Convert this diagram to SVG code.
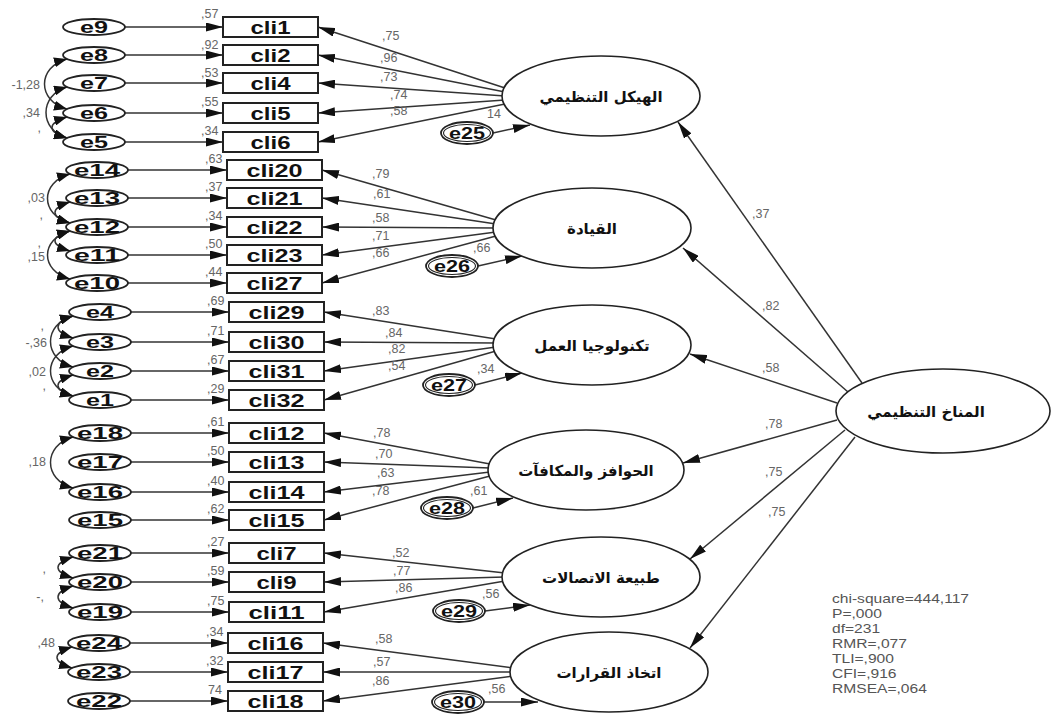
<svg xmlns="http://www.w3.org/2000/svg" width="1051" height="714" viewBox="0 0 1051 714">
<style>
.box{fill:#fff;stroke:#222;stroke-width:2}
.ell{fill:#fff;stroke:#222;stroke-width:1.8}
.in{fill:none;stroke:#222;stroke-width:1.1}
.lat{fill:#fff;stroke:#222;stroke-width:1.6}
.el{font-family:"Liberation Sans",Arial,sans-serif;font-weight:bold;font-size:17px;fill:#111;text-anchor:middle}
.cl{font-family:"Liberation Sans",Arial,sans-serif;font-weight:bold;font-size:19px;fill:#111;text-anchor:middle}
.ee{font-family:"Liberation Sans",Arial,sans-serif;font-weight:bold;font-size:16px;fill:#111;text-anchor:middle}
.num{font-family:"Liberation Sans",Arial,sans-serif;font-size:12.5px;fill:#666}
.end{text-anchor:end}
.ar{font-family:"DejaVu Sans","Noto Sans",sans-serif;font-weight:bold;font-size:15px;fill:#111;text-anchor:middle}
.fit{font-family:"Liberation Sans",Arial,sans-serif;font-size:13px;fill:#555}
#connectors line,#connectors path{stroke:#333;stroke-width:1.5;fill:none}
.a{marker-end:url(#ah)}
.c{marker-start:url(#ch);marker-end:url(#ch)}
</style>
<defs>
<marker id="ah" viewBox="0 0 17 9" refX="17" refY="4.5" markerWidth="17" markerHeight="9" markerUnits="userSpaceOnUse" orient="auto"><path d="M0,0 L17,4.5 L0,9 z" fill="#111"/></marker>
<marker id="ch" viewBox="0 0 13 10" refX="13" refY="5" markerWidth="13" markerHeight="10" markerUnits="userSpaceOnUse" orient="auto-start-reverse"><path d="M0,0 L13,5 L0,10 z" fill="#111"/></marker>
</defs>
<rect width="1051" height="714" fill="#fff"/>

<g id="connectors">
<line class="a" x1="125" y1="27" x2="223" y2="27"/>
<line class="a" x1="125" y1="55" x2="223" y2="55"/>
<line class="a" x1="125" y1="83" x2="223" y2="83"/>
<line class="a" x1="125" y1="113" x2="223" y2="113"/>
<line class="a" x1="125" y1="142" x2="223" y2="142"/>
<line class="a" x1="128" y1="170" x2="227" y2="170"/>
<line class="a" x1="128" y1="198" x2="227" y2="198"/>
<line class="a" x1="128" y1="227" x2="227" y2="227"/>
<line class="a" x1="128" y1="255" x2="227" y2="255"/>
<line class="a" x1="128" y1="283" x2="227" y2="283"/>
<line class="a" x1="131" y1="312" x2="229" y2="312"/>
<line class="a" x1="131" y1="342" x2="229" y2="342"/>
<line class="a" x1="131" y1="371" x2="229" y2="371"/>
<line class="a" x1="131" y1="400" x2="229" y2="400"/>
<line class="a" x1="131" y1="433" x2="229" y2="433"/>
<line class="a" x1="131" y1="462" x2="229" y2="462"/>
<line class="a" x1="131" y1="492" x2="229" y2="492"/>
<line class="a" x1="131" y1="520" x2="229" y2="520"/>
<line class="a" x1="131" y1="553" x2="229" y2="553"/>
<line class="a" x1="131" y1="582" x2="229" y2="582"/>
<line class="a" x1="131" y1="612" x2="229" y2="612"/>
<line class="a" x1="130" y1="643" x2="228" y2="643"/>
<line class="a" x1="130" y1="672" x2="228" y2="672"/>
<line class="a" x1="130" y1="701" x2="228" y2="701"/>
<line class="a" x1="505" y1="88" x2="318" y2="27"/>
<line class="a" x1="505" y1="92" x2="318" y2="55"/>
<line class="a" x1="505" y1="96" x2="318" y2="83"/>
<line class="a" x1="505" y1="100" x2="318" y2="113"/>
<line class="a" x1="505" y1="104" x2="318" y2="142"/>
<line class="a" x1="496" y1="220" x2="322" y2="170"/>
<line class="a" x1="496" y1="224" x2="322" y2="198"/>
<line class="a" x1="496" y1="228" x2="322" y2="227"/>
<line class="a" x1="496" y1="232" x2="322" y2="255"/>
<line class="a" x1="496" y1="236" x2="322" y2="283"/>
<line class="a" x1="496" y1="339" x2="324" y2="312"/>
<line class="a" x1="496" y1="343" x2="324" y2="342"/>
<line class="a" x1="496" y1="347" x2="324" y2="371"/>
<line class="a" x1="496" y1="351" x2="324" y2="400"/>
<line class="a" x1="490" y1="464" x2="324" y2="433"/>
<line class="a" x1="490" y1="468" x2="324" y2="462"/>
<line class="a" x1="490" y1="472" x2="324" y2="492"/>
<line class="a" x1="490" y1="476" x2="324" y2="520"/>
<line class="a" x1="505" y1="573" x2="324" y2="553"/>
<line class="a" x1="505" y1="577" x2="324" y2="582"/>
<line class="a" x1="505" y1="581" x2="324" y2="612"/>
<line class="a" x1="513" y1="668" x2="323" y2="643"/>
<line class="a" x1="513" y1="672" x2="323" y2="672"/>
<line class="a" x1="513" y1="676" x2="323" y2="701"/>
<line class="a" x1="493" y1="133" x2="530" y2="125"/>
<line class="a" x1="478" y1="266" x2="522" y2="256"/>
<line class="a" x1="475" y1="385" x2="522" y2="373"/>
<line class="a" x1="473" y1="508" x2="513" y2="498"/>
<line class="a" x1="485" y1="611" x2="530" y2="605"/>
<line class="a" x1="484" y1="702" x2="538" y2="702"/>
<line class="a" x1="862" y1="383" x2="678" y2="122"/>
<line class="a" x1="848" y1="392" x2="683" y2="248"/>
<line class="a" x1="837" y1="403" x2="690" y2="354"/>
<line class="a" x1="837" y1="420" x2="683" y2="463"/>
<line class="a" x1="845" y1="430" x2="690" y2="559"/>
<line class="a" x1="855" y1="437" x2="690" y2="648"/>
<path class="c" d="M67,59 C37,67 37,101 67,109"/>
<path class="c" d="M67,87 C39,95 39,130 67,138"/>
<path class="c" d="M67,117 C47,123 47,132 67,138"/>
<path class="c" d="M70,174 C40,182 40,215 70,223"/>
<path class="c" d="M70,202 C50,208 50,217 70,223"/>
<path class="c" d="M70,231 C50,237 50,245 70,251"/>
<path class="c" d="M70,231 C40,239 40,271 70,279"/>
<path class="c" d="M73,316 C53,322 53,332 73,338"/>
<path class="c" d="M73,316 C43,324 43,359 73,367"/>
<path class="c" d="M73,346 C43,354 43,388 73,396"/>
<path class="c" d="M73,375 C53,381 53,390 73,396"/>
<path class="c" d="M73,437 C43,445 43,480 73,488"/>
<path class="c" d="M73,557 C53,563 53,572 73,578"/>
<path class="c" d="M73,586 C53,592 53,602 73,608"/>
<path class="c" d="M72,647 C52,653 52,662 72,668"/>
</g>

<g id="labels" class="num">
<text x="201" y="18">,57</text>
<text x="201" y="49">,92</text>
<text x="201" y="77">,53</text>
<text x="201" y="106">,55</text>
<text x="201" y="135">,34</text>
<text x="205" y="163">,63</text>
<text x="205" y="191">,37</text>
<text x="205" y="220">,34</text>
<text x="205" y="248">,50</text>
<text x="205" y="276">,44</text>
<text x="207" y="305">,69</text>
<text x="207" y="335">,71</text>
<text x="207" y="364">,67</text>
<text x="207" y="393">,29</text>
<text x="207" y="426">,61</text>
<text x="207" y="455">,50</text>
<text x="207" y="485">,40</text>
<text x="207" y="513">,62</text>
<text x="207" y="546">,27</text>
<text x="207" y="575">,59</text>
<text x="207" y="605">,75</text>
<text x="206" y="636">,34</text>
<text x="206" y="665">,32</text>
<text x="208" y="694">74</text>
<text x="382" y="40">,75</text>
<text x="380" y="62">,96</text>
<text x="380" y="81">,73</text>
<text x="390" y="99">,74</text>
<text x="390" y="115">,58</text>
<text x="487" y="118">14</text>
<text x="372" y="178">,79</text>
<text x="373" y="198">,61</text>
<text x="372" y="222">,58</text>
<text x="372" y="240">,71</text>
<text x="372" y="257">,66</text>
<text x="473" y="252">,66</text>
<text x="372" y="315">,83</text>
<text x="385" y="337">,84</text>
<text x="388" y="353">,82</text>
<text x="388" y="370">,54</text>
<text x="477" y="373">,34</text>
<text x="373" y="437">,78</text>
<text x="375" y="458">,70</text>
<text x="377" y="477">,63</text>
<text x="372" y="495">,78</text>
<text x="470" y="495">,61</text>
<text x="392" y="557">,52</text>
<text x="393" y="575">,77</text>
<text x="395" y="592">,86</text>
<text x="482" y="598">,56</text>
<text x="375" y="643">,58</text>
<text x="373" y="666">,57</text>
<text x="372" y="685">,86</text>
<text x="488" y="693">,56</text>
<text x="752" y="218">,37</text>
<text x="762" y="310">,82</text>
<text x="762" y="372">,58</text>
<text x="765" y="428">,78</text>
<text x="765" y="476">,75</text>
<text x="768" y="516">,75</text>
<text class="end" x="40" y="89">-1,28</text>
<text class="end" x="40" y="117">,34</text>
<text class="end" x="41" y="132">,</text>
<text class="end" x="45" y="202">,03</text>
<text class="end" x="43" y="219">,</text>
<text class="end" x="41" y="247">,</text>
<text class="end" x="45" y="261">,15</text>
<text class="end" x="44" y="330">,</text>
<text class="end" x="47" y="347">-,36</text>
<text class="end" x="46" y="376">,02</text>
<text class="end" x="46" y="390">,</text>
<text class="end" x="46" y="466">,18</text>
<text class="end" x="46" y="573">,</text>
<text class="end" x="44" y="601">-,</text>
<text class="end" x="55" y="647">,48</text>
</g>

<g id="e9"><ellipse class="ell" cx="94" cy="27" rx="31" ry="8"/><text class="el" x="94" y="33" textLength="28" lengthAdjust="spacingAndGlyphs">e9</text></g>
<g id="e8"><ellipse class="ell" cx="94" cy="55" rx="31" ry="8"/><text class="el" x="94" y="61" textLength="28" lengthAdjust="spacingAndGlyphs">e8</text></g>
<g id="e7"><ellipse class="ell" cx="94" cy="83" rx="31" ry="8"/><text class="el" x="94" y="89" textLength="28" lengthAdjust="spacingAndGlyphs">e7</text></g>
<g id="e6"><ellipse class="ell" cx="94" cy="113" rx="31" ry="8"/><text class="el" x="94" y="119" textLength="28" lengthAdjust="spacingAndGlyphs">e6</text></g>
<g id="e5"><ellipse class="ell" cx="94" cy="142" rx="31" ry="8"/><text class="el" x="94" y="148" textLength="28" lengthAdjust="spacingAndGlyphs">e5</text></g>
<g id="e14"><ellipse class="ell" cx="97" cy="170" rx="31" ry="8"/><text class="el" x="97" y="176" textLength="46" lengthAdjust="spacingAndGlyphs">e14</text></g>
<g id="e13"><ellipse class="ell" cx="97" cy="198" rx="31" ry="8"/><text class="el" x="97" y="204" textLength="46" lengthAdjust="spacingAndGlyphs">e13</text></g>
<g id="e12"><ellipse class="ell" cx="97" cy="227" rx="31" ry="8"/><text class="el" x="97" y="233" textLength="46" lengthAdjust="spacingAndGlyphs">e12</text></g>
<g id="e11"><ellipse class="ell" cx="97" cy="255" rx="31" ry="8"/><text class="el" x="97" y="261" textLength="46" lengthAdjust="spacingAndGlyphs">e11</text></g>
<g id="e10"><ellipse class="ell" cx="97" cy="283" rx="31" ry="8"/><text class="el" x="97" y="289" textLength="46" lengthAdjust="spacingAndGlyphs">e10</text></g>
<g id="e4"><ellipse class="ell" cx="100" cy="312" rx="31" ry="8"/><text class="el" x="100" y="318" textLength="28" lengthAdjust="spacingAndGlyphs">e4</text></g>
<g id="e3"><ellipse class="ell" cx="100" cy="342" rx="31" ry="8"/><text class="el" x="100" y="348" textLength="28" lengthAdjust="spacingAndGlyphs">e3</text></g>
<g id="e2"><ellipse class="ell" cx="100" cy="371" rx="31" ry="8"/><text class="el" x="100" y="377" textLength="28" lengthAdjust="spacingAndGlyphs">e2</text></g>
<g id="e1"><ellipse class="ell" cx="100" cy="400" rx="31" ry="8"/><text class="el" x="100" y="406" textLength="28" lengthAdjust="spacingAndGlyphs">e1</text></g>
<g id="e18"><ellipse class="ell" cx="100" cy="433" rx="31" ry="8"/><text class="el" x="100" y="439" textLength="46" lengthAdjust="spacingAndGlyphs">e18</text></g>
<g id="e17"><ellipse class="ell" cx="100" cy="462" rx="31" ry="8"/><text class="el" x="100" y="468" textLength="46" lengthAdjust="spacingAndGlyphs">e17</text></g>
<g id="e16"><ellipse class="ell" cx="100" cy="492" rx="31" ry="8"/><text class="el" x="100" y="498" textLength="46" lengthAdjust="spacingAndGlyphs">e16</text></g>
<g id="e15"><ellipse class="ell" cx="100" cy="520" rx="31" ry="8"/><text class="el" x="100" y="526" textLength="46" lengthAdjust="spacingAndGlyphs">e15</text></g>
<g id="e21"><ellipse class="ell" cx="100" cy="553" rx="31" ry="8"/><text class="el" x="100" y="559" textLength="46" lengthAdjust="spacingAndGlyphs">e21</text></g>
<g id="e20"><ellipse class="ell" cx="100" cy="582" rx="31" ry="8"/><text class="el" x="100" y="588" textLength="46" lengthAdjust="spacingAndGlyphs">e20</text></g>
<g id="e19"><ellipse class="ell" cx="100" cy="612" rx="31" ry="8"/><text class="el" x="100" y="618" textLength="46" lengthAdjust="spacingAndGlyphs">e19</text></g>
<g id="e24"><ellipse class="ell" cx="99" cy="643" rx="31" ry="8"/><text class="el" x="99" y="649" textLength="46" lengthAdjust="spacingAndGlyphs">e24</text></g>
<g id="e23"><ellipse class="ell" cx="99" cy="672" rx="31" ry="8"/><text class="el" x="99" y="678" textLength="46" lengthAdjust="spacingAndGlyphs">e23</text></g>
<g id="e22"><ellipse class="ell" cx="99" cy="701" rx="31" ry="8"/><text class="el" x="99" y="707" textLength="46" lengthAdjust="spacingAndGlyphs">e22</text></g>

<g id="cli1"><rect class="box" x="223" y="17" width="95" height="20"/><text class="cl" x="270.5" y="34" textLength="40" lengthAdjust="spacingAndGlyphs">cli1</text></g>
<g id="cli2"><rect class="box" x="223" y="45" width="95" height="20"/><text class="cl" x="270.5" y="62" textLength="40" lengthAdjust="spacingAndGlyphs">cli2</text></g>
<g id="cli4"><rect class="box" x="223" y="73" width="95" height="20"/><text class="cl" x="270.5" y="90" textLength="40" lengthAdjust="spacingAndGlyphs">cli4</text></g>
<g id="cli5"><rect class="box" x="223" y="103" width="95" height="20"/><text class="cl" x="270.5" y="120" textLength="40" lengthAdjust="spacingAndGlyphs">cli5</text></g>
<g id="cli6"><rect class="box" x="223" y="132" width="95" height="20"/><text class="cl" x="270.5" y="149" textLength="40" lengthAdjust="spacingAndGlyphs">cli6</text></g>
<g id="cli20"><rect class="box" x="227" y="160" width="95" height="20"/><text class="cl" x="274.5" y="177" textLength="56" lengthAdjust="spacingAndGlyphs">cli20</text></g>
<g id="cli21"><rect class="box" x="227" y="188" width="95" height="20"/><text class="cl" x="274.5" y="205" textLength="56" lengthAdjust="spacingAndGlyphs">cli21</text></g>
<g id="cli22"><rect class="box" x="227" y="217" width="95" height="20"/><text class="cl" x="274.5" y="234" textLength="56" lengthAdjust="spacingAndGlyphs">cli22</text></g>
<g id="cli23"><rect class="box" x="227" y="245" width="95" height="20"/><text class="cl" x="274.5" y="262" textLength="56" lengthAdjust="spacingAndGlyphs">cli23</text></g>
<g id="cli27"><rect class="box" x="227" y="273" width="95" height="20"/><text class="cl" x="274.5" y="290" textLength="56" lengthAdjust="spacingAndGlyphs">cli27</text></g>
<g id="cli29"><rect class="box" x="229" y="302" width="95" height="20"/><text class="cl" x="276.5" y="319" textLength="56" lengthAdjust="spacingAndGlyphs">cli29</text></g>
<g id="cli30"><rect class="box" x="229" y="332" width="95" height="20"/><text class="cl" x="276.5" y="349" textLength="56" lengthAdjust="spacingAndGlyphs">cli30</text></g>
<g id="cli31"><rect class="box" x="229" y="361" width="95" height="20"/><text class="cl" x="276.5" y="378" textLength="56" lengthAdjust="spacingAndGlyphs">cli31</text></g>
<g id="cli32"><rect class="box" x="229" y="390" width="95" height="20"/><text class="cl" x="276.5" y="407" textLength="56" lengthAdjust="spacingAndGlyphs">cli32</text></g>
<g id="cli12"><rect class="box" x="229" y="423" width="95" height="20"/><text class="cl" x="276.5" y="440" textLength="56" lengthAdjust="spacingAndGlyphs">cli12</text></g>
<g id="cli13"><rect class="box" x="229" y="452" width="95" height="20"/><text class="cl" x="276.5" y="469" textLength="56" lengthAdjust="spacingAndGlyphs">cli13</text></g>
<g id="cli14"><rect class="box" x="229" y="482" width="95" height="20"/><text class="cl" x="276.5" y="499" textLength="56" lengthAdjust="spacingAndGlyphs">cli14</text></g>
<g id="cli15"><rect class="box" x="229" y="510" width="95" height="20"/><text class="cl" x="276.5" y="527" textLength="56" lengthAdjust="spacingAndGlyphs">cli15</text></g>
<g id="cli7"><rect class="box" x="229" y="543" width="95" height="20"/><text class="cl" x="276.5" y="560" textLength="40" lengthAdjust="spacingAndGlyphs">cli7</text></g>
<g id="cli9"><rect class="box" x="229" y="572" width="95" height="20"/><text class="cl" x="276.5" y="589" textLength="40" lengthAdjust="spacingAndGlyphs">cli9</text></g>
<g id="cli11"><rect class="box" x="229" y="602" width="95" height="20"/><text class="cl" x="276.5" y="619" textLength="56" lengthAdjust="spacingAndGlyphs">cli11</text></g>
<g id="cli16"><rect class="box" x="228" y="633" width="95" height="20"/><text class="cl" x="275.5" y="650" textLength="56" lengthAdjust="spacingAndGlyphs">cli16</text></g>
<g id="cli17"><rect class="box" x="228" y="662" width="95" height="20"/><text class="cl" x="275.5" y="679" textLength="56" lengthAdjust="spacingAndGlyphs">cli17</text></g>
<g id="cli18"><rect class="box" x="228" y="691" width="95" height="20"/><text class="cl" x="275.5" y="708" textLength="56" lengthAdjust="spacingAndGlyphs">cli18</text></g>

<g id="e25"><ellipse class="ell" cx="467" cy="133" rx="26" ry="11"/><ellipse class="in" cx="467" cy="133" rx="23.5" ry="8.5"/><text class="ee" x="467" y="139" textLength="36" lengthAdjust="spacingAndGlyphs">e25</text></g>
<g id="e26"><ellipse class="ell" cx="452" cy="266" rx="26" ry="11"/><ellipse class="in" cx="452" cy="266" rx="23.5" ry="8.5"/><text class="ee" x="452" y="272" textLength="36" lengthAdjust="spacingAndGlyphs">e26</text></g>
<g id="e27"><ellipse class="ell" cx="449" cy="385" rx="26" ry="11"/><ellipse class="in" cx="449" cy="385" rx="23.5" ry="8.5"/><text class="ee" x="449" y="391" textLength="36" lengthAdjust="spacingAndGlyphs">e27</text></g>
<g id="e28"><ellipse class="ell" cx="447" cy="508" rx="26" ry="11"/><ellipse class="in" cx="447" cy="508" rx="23.5" ry="8.5"/><text class="ee" x="447" y="514" textLength="36" lengthAdjust="spacingAndGlyphs">e28</text></g>
<g id="e29"><ellipse class="ell" cx="459" cy="611" rx="26" ry="11"/><ellipse class="in" cx="459" cy="611" rx="23.5" ry="8.5"/><text class="ee" x="459" y="617" textLength="36" lengthAdjust="spacingAndGlyphs">e29</text></g>
<g id="e30"><ellipse class="ell" cx="458" cy="702" rx="26" ry="11"/><ellipse class="in" cx="458" cy="702" rx="23.5" ry="8.5"/><text class="ee" x="458" y="708" textLength="36" lengthAdjust="spacingAndGlyphs">e30</text></g>

<g id="structure"><ellipse class="lat" cx="601" cy="96" rx="99" ry="40"/><text class="ar" x="601" y="102">الهيكل التنظيمي</text></g>
<g id="leadership"><ellipse class="lat" cx="592" cy="228" rx="99" ry="40"/><text class="ar" x="592" y="234">القيادة</text></g>
<g id="technology"><ellipse class="lat" cx="592" cy="345" rx="99" ry="40"/><text class="ar" x="592" y="351">تكنولوجيا العمل</text></g>
<g id="incentives"><ellipse class="lat" cx="586" cy="470" rx="98" ry="40"/><text class="ar" x="586" y="476">الحوافز والمكافآت</text></g>
<g id="communication"><ellipse class="lat" cx="601" cy="577" rx="99" ry="40"/><text class="ar" x="601" y="583">طبيعة الاتصالات</text></g>
<g id="decisions"><ellipse class="lat" cx="609" cy="672" rx="99" ry="40"/><text class="ar" x="609" y="678">اتخاذ القرارات</text></g>
<g id="climate"><ellipse class="lat" cx="943" cy="411" rx="107" ry="42"/><text class="ar" x="926" y="417">المناخ التنظيمي</text></g>

<g id="fit" class="fit" transform="translate(832,0) scale(1.2,1)">
<text x="0" y="603">chi-square=444,117</text>
<text x="0" y="618">P=,000</text>
<text x="0" y="633">df=231</text>
<text x="0" y="648">RMR=,077</text>
<text x="0" y="663">TLI=,900</text>
<text x="0" y="678">CFI=,916</text>
<text x="0" y="693">RMSEA=,064</text>
</g>
</svg>
